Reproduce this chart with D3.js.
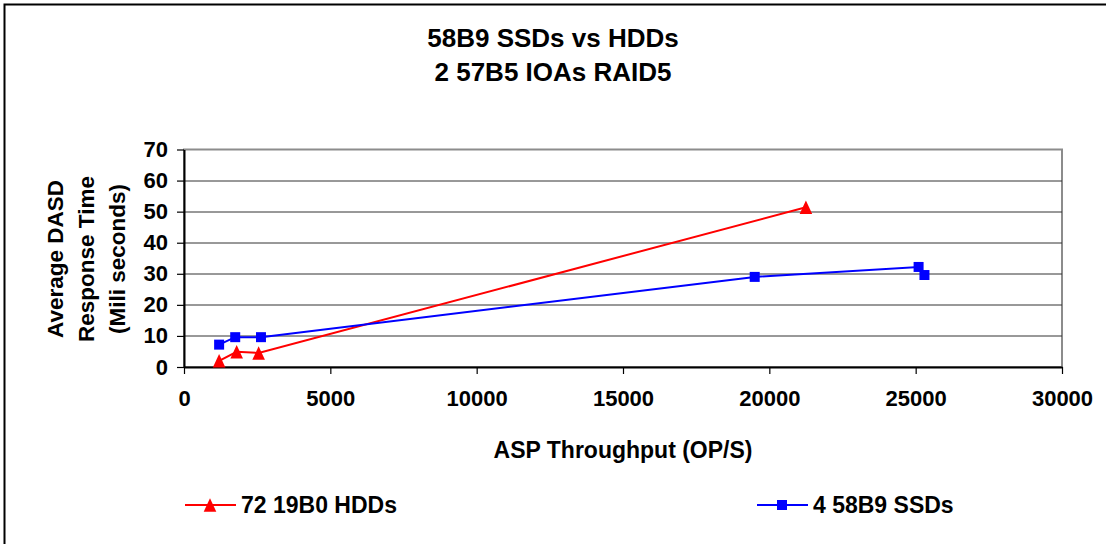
<!DOCTYPE html>
<html>
<head>
<meta charset="utf-8">
<script src="https://cdn.jsdelivr.net/npm/d3@7"></script>
<style>
    body { margin: 0; background: #fff; }
    text { font-family: "Liberation Sans", Arial, sans-serif; font-weight: bold; fill: #000; }
</style>
</head>
<body>
<div id="chart"></div>
<script>
// data
let hddThroughput = [1200, 1800, 2550, 21250];
let hddResponse = [2, 4.9, 4.5, 51.4];
let ssdThroughput = [1200, 1750, 2630, 19500, 25100, 25300];
let ssdResponse = [7.2, 9.6, 9.6, 29, 32.2, 29.6];
let xTicks = [0, 5000, 10000, 15000, 20000, 25000, 30000];
let yTicks = [0, 10, 20, 30, 40, 50, 60, 70];
let seriesNames = ["72 19B0 HDDs", "4 58B9 SSDs"];

let margin = { top: 149.5, right: 44, bottom: 177, left: 184 };
let fullWidth = 1106, fullHeight = 544;
let width = fullWidth - margin.left - margin.right;
let height = fullHeight - margin.top - margin.bottom;

let svg = d3.select("#chart").append("svg")
    .attr("width", fullWidth)
    .attr("height", fullHeight);

// outer chart border (cut off at right and bottom)
svg.append("path")
    .attr("d", "M4.5,600 V4.5 H1200")
    .attr("fill", "none")
    .attr("stroke", "#000")
    .attr("stroke-width", 2);

svg.append("text")
    .attr("x", 553).attr("y", 47)
    .attr("text-anchor", "middle")
    .style("font-size", "26px")
    .text("58B9 SSDs vs HDDs");
svg.append("text")
    .attr("x", 553).attr("y", 81)
    .attr("text-anchor", "middle")
    .style("font-size", "26px")
    .text("2 57B5 IOAs RAID5");

let g = svg.append("g")
    .attr("transform", "translate(" + margin.left + "," + margin.top + ")");

let x = d3.scaleLinear().domain([0, 30000]).range([0, width]);
let y = d3.scaleLinear().domain([0, 70]).range([height, 0]);

// plot area border
g.append("rect")
    .attr("width", width).attr("height", height)
    .attr("fill", "none")
    .attr("stroke", "#8c8c8c")
    .attr("stroke-width", 2);

// gridlines
g.selectAll(".grid")
    .data(yTicks.slice(1, -1))
    .enter().append("line")
    .attr("class", "grid")
    .attr("x1", 0).attr("x2", width)
    .attr("y1", d => Math.round(y(d)) + 0.5)
    .attr("y2", d => Math.round(y(d)) + 0.5)
    .attr("stroke", "#333")
    .attr("stroke-width", 1);

let xAxis = d3.axisBottom(x).tickValues(xTicks).tickFormat(d3.format("d"))
    .tickSizeInner(7).tickSizeOuter(0).tickPadding(16);
let yAxis = d3.axisLeft(y).tickValues(yTicks).tickFormat(d3.format("d"))
    .tickSizeInner(7).tickSizeOuter(0).tickPadding(9);

let xg = g.append("g").attr("transform", "translate(0," + height + ")").call(xAxis);
let yg = g.append("g").call(yAxis);
[xg, yg].forEach(function(a) {
    a.select(".domain").attr("stroke", "#000").attr("stroke-width", 2);
    a.selectAll(".tick line").attr("stroke", "#000").attr("stroke-width", 1.2);
    a.selectAll("text").style("font-size", "22px").style("font-family", "'Liberation Sans', Arial, sans-serif")
        .style("font-weight", "bold").attr("fill", "#000");
});

svg.append("text")
    .attr("x", 623).attr("y", 458)
    .attr("text-anchor", "middle")
    .style("font-size", "23px")
    .text("ASP Throughput (OP/S)");

let yTitle = svg.append("text")
    .attr("transform", "translate(63,259) rotate(-90)")
    .attr("text-anchor", "middle")
    .style("font-size", "22.5px");
["Average DASD", "Response Time", "(Mili seconds)"].forEach(function(t, i) {
    yTitle.append("tspan").attr("x", 0).attr("dy", i === 0 ? 0 : 31).text(t);
});

let line = d3.line().x(d => x(d[0])).y(d => y(d[1]));
let hdd = hddThroughput.map((v, i) => [v, hddResponse[i]]);
let ssd = ssdThroughput.map((v, i) => [v, ssdResponse[i]]);

// taller-than-equilateral triangle marker
let triType = {
    draw: function(context, size) {
        let h = Math.sqrt(size);
        context.moveTo(0, -h / 2);
        context.lineTo(h * 0.47, h / 2);
        context.lineTo(-h * 0.47, h / 2);
        context.closePath();
    }
};
let tri = d3.symbol().type(triType).size(180);
let sq = d3.symbol().type(d3.symbolSquare).size(100);

g.append("path").datum(hdd).attr("d", line)
    .attr("fill", "none").attr("stroke", "#ff0000").attr("stroke-width", 2);
g.append("path").datum(ssd).attr("d", line)
    .attr("fill", "none").attr("stroke", "#0000ff").attr("stroke-width", 2);

g.selectAll(".ssd").data(ssd).enter().append("path")
    .attr("class", "ssd")
    .attr("d", sq)
    .attr("transform", d => "translate(" + x(d[0]) + "," + y(d[1]) + ")")
    .attr("fill", "#0000ff");
g.selectAll(".hdd").data(hdd).enter().append("path")
    .attr("class", "hdd")
    .attr("d", tri)
    .attr("transform", d => "translate(" + x(d[0]) + "," + y(d[1]) + ")")
    .attr("fill", "#ff0000");

// legend
let legend = [
    { name: seriesNames[0], color: "#ff0000", symbol: tri, x: 185 },
    { name: seriesNames[1], color: "#0000ff", symbol: sq, x: 757 }
];
let lg = svg.selectAll(".legend").data(legend).enter().append("g")
    .attr("class", "legend")
    .attr("transform", d => "translate(" + d.x + ",505)");
lg.append("line")
    .attr("x1", 0).attr("x2", 51)
    .attr("stroke", d => d.color).attr("stroke-width", 2);
lg.append("path")
    .attr("d", d => d.symbol())
    .attr("transform", "translate(25,0)")
    .attr("fill", d => d.color);
lg.append("text")
    .attr("x", 56).attr("y", 8)
    .style("font-size", "23px")
    .text(d => d.name);
</script>
</body>
</html>
